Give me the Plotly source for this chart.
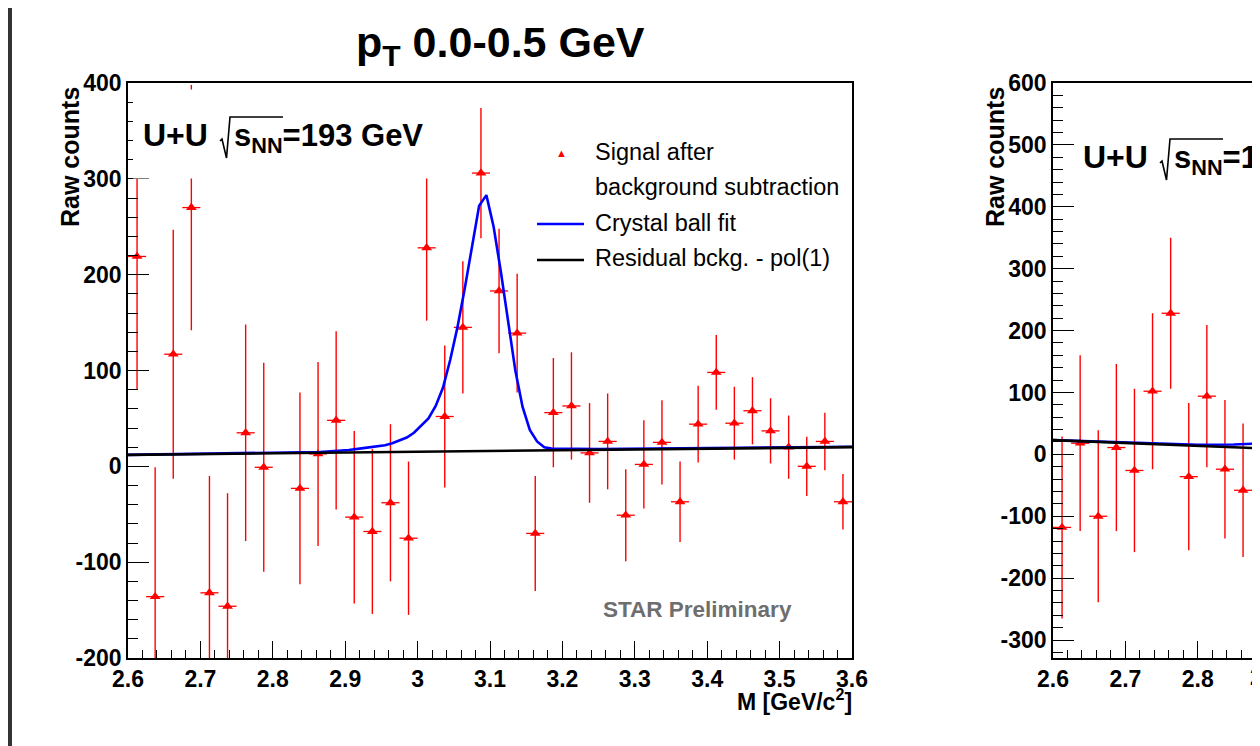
import plotly.graph_objects as go

# page has an 8 px body margin: the figure is sized so it fills the window
PAGE_OFF = 8
W, H = 1260 - PAGE_OFF, 746 - PAGE_OFF
FONT = "Liberation Sans, Arial, Helvetica, sans-serif"

# ---------------- data (left panel: pT 0.0-0.5 GeV) ----------------
MASS_BINS = [2.6125, 2.6375, 2.6625, 2.6875, 2.7125, 2.7375, 2.7625, 2.7875,
             2.8125, 2.8375, 2.8625, 2.8875, 2.9125, 2.9375, 2.9625, 2.9875,
             3.0125, 3.0375, 3.0625, 3.0875, 3.1125, 3.1375, 3.1625, 3.1875,
             3.2125, 3.2375, 3.2625, 3.2875, 3.3125, 3.3375, 3.3625, 3.3875,
             3.4125, 3.4375, 3.4625, 3.4875, 3.5125, 3.5375, 3.5625, 3.5875]
SIGNAL = [219, -136, 117, 270, -132, -146, 35, -1,
          None, -23, 13, 48, -53, -68, -38, -75,
          228, 52, 145, 306, 183, 139, -70, 56,
          63, 14, 26, -51, 2, 25, -37, 44,
          98, 45, 58, 37, 20, 0, 26, -37]
SIGNAL_ERR = [139, 135, 130, 128, 122, 118, 113, 109,
              105, 100, 96, 93, 90, 86, 82, 80,
              76, 74, 69, 68, 65, 62, 60, 57,
              56, 52, 50, 48, 46, 44, 42, 40,
              39, 38, 35, 34, 33, 31, 30, 29]
BIN_HALF_WIDTH = 0.0125

FIT_MASS = [2.600, 2.845, 2.865, 2.885, 2.905, 2.925, 2.945, 2.955, 2.965,
            2.975, 2.985, 2.995, 3.005, 3.015, 3.025, 3.035, 3.045, 3.055,
            3.065, 3.075, 3.085, 3.095, 3.105, 3.115, 3.125, 3.135, 3.145,
            3.155, 3.165, 3.175, 3.185, 3.250, 3.600]
FIT_VAL = [12, 14.5, 15, 16, 17, 19, 21, 22, 24,
           27, 30, 35, 42, 50, 63, 82, 111, 145,
           185, 229, 272, 283, 250, 203, 150, 100, 62,
           38, 26, 20, 18.5, 18, 20.5]
BKG_MASS = [2.6, 3.6]
BKG_VAL = [12, 20]

# ---------------- data (right panel, partly visible) ----------------
R_MASS_BINS = [2.6125, 2.6375, 2.6625, 2.6875, 2.7125, 2.7375, 2.7625, 2.7875,
               2.8125, 2.8375, 2.8625, 2.8875]
R_SIGNAL = [-118, 18, -100, 11, -26, 102, 228, -36, 94, -24, -58, -105]
R_SIGNAL_ERR = [147, 142, 139, 135, 132, 126, 122, 119, 115, 112, 108, 105]
R_FIT_MASS = [2.60, 2.75, 2.80, 2.85, 2.886, 2.90]
R_FIT_VAL = [23, 16.5, 15.5, 16, 17.5, 18.5]
R_BKG_MASS = [2.6, 2.9]
R_BKG_VAL = [23, 9]

Y_TICKS_L = [-200, -100, 0, 100, 200, 300, 400]
Y_TICKS_R = [-300, -200, -100, 0, 100, 200, 300, 400, 500, 600]


def px(x):
    """page pixel -> paper x"""
    return (x - PAGE_OFF) / W


def py(y):
    """page pixel -> paper y"""
    return 1 - (y - PAGE_OFF) / H


RED = "rgb(255,0,0)"

fig = go.Figure()


def add_panel(xs, ys, errs, fx, fy, bx, by, xa, ya):
    fig.add_trace(go.Scatter(
        x=xs, y=ys, mode="markers", xaxis=xa, yaxis=ya, showlegend=False,
        marker=dict(symbol="triangle-up", size=9.5, color=RED),
        error_y=dict(type="data", array=errs, visible=True, color=RED,
                     thickness=1.4, width=0),
        error_x=dict(type="constant", value=BIN_HALF_WIDTH, visible=True,
                     color=RED, thickness=1.3, width=0),
    ))
    fig.add_trace(go.Scatter(x=fx, y=fy, mode="lines", xaxis=xa, yaxis=ya,
                             showlegend=False,
                             line=dict(color="rgb(0,0,255)", width=2.6)))
    fig.add_trace(go.Scatter(x=bx, y=by, mode="lines", xaxis=xa, yaxis=ya,
                             showlegend=False,
                             line=dict(color="black", width=2.6)))


add_panel(MASS_BINS, SIGNAL, SIGNAL_ERR, FIT_MASS, FIT_VAL, BKG_MASS, BKG_VAL,
          "x", "y")
add_panel(R_MASS_BINS, R_SIGNAL, R_SIGNAL_ERR, R_FIT_MASS, R_FIT_VAL,
          R_BKG_MASS, R_BKG_VAL, "x2", "y2")

tickfont = dict(family=FONT, size=23, color="black", weight="bold")


def xaxis(domain, rng):
    return dict(domain=domain, range=rng, showline=True, linecolor="black",
                linewidth=1.5, mirror=True, ticks="inside", ticklen=17,
                tickwidth=1.2, tickcolor="black", tickmode="linear",
                tick0=2.6, dtick=0.1, tickfont=tickfont, showgrid=False,
                zeroline=False, automargin=False, ticklabelstandoff=0,
                minor=dict(ticks="inside", ticklen=8, tickwidth=1.2,
                           tickcolor="black", dtick=0.02, tick0=2.6,
                           showgrid=False))


def yaxis(domain, rng, ticks, mirror):
    return dict(domain=domain, range=rng, showline=True, linecolor="black",
                linewidth=1.5, mirror=mirror, ticks="inside", ticklen=21,
                tickwidth=1.2, tickcolor="black", tickmode="array",
                tickvals=ticks, ticktext=[str(t) for t in ticks],
                tickfont=tickfont, showgrid=False, zeroline=False,
                automargin=False, ticklabelstandoff=0,
                minor=dict(ticks="inside", ticklen=10, tickwidth=1.2,
                           tickcolor="black", tickmode="linear", dtick=20,
                           tick0=0, showgrid=False))


ydom = [py(658), py(83)]
layout = dict(
    width=W, height=H, margin=dict(l=0, r=0, t=0, b=0),
    paper_bgcolor="white", plot_bgcolor="white", showlegend=False,
    xaxis=xaxis([px(128), px(852)], [2.6, 3.6]),
    yaxis=yaxis(ydom, [-200, 400], Y_TICKS_L, True),
    xaxis2=xaxis([px(1053), 1.0], [2.6, 2.6 + 207 / 724]),
    yaxis2=yaxis(ydom, [-329, 600], Y_TICKS_R, False),
)
layout["xaxis"]["anchor"] = "y"
layout["yaxis"]["anchor"] = "x"
layout["xaxis2"]["anchor"] = "y2"
layout["yaxis2"]["anchor"] = "x2"
fig.update_layout(**layout)

shapes = []
annotations = []

# white pave behind "U+U" text (covers error bars like in the original)
shapes.append(dict(type="rect", xref="paper", yref="paper", layer="above",
                   x0=px(133), x1=px(455), y0=py(178.5), y1=py(89.5),
                   fillcolor="white", line=dict(width=0)))
# thick canvas border on the far left
shapes.append(dict(type="rect", xref="paper", yref="paper", layer="above",
                   x0=px(8), x1=px(12), y0=0, y1=1,
                   fillcolor="#333333", line=dict(width=0)))


def ann(text, x, y, size, xanchor="left", yanchor="middle", bold=False,
        color="black", angle=0):
    annotations.append(dict(
        text=text, x=px(x), y=py(y), xref="paper", yref="paper",
        showarrow=False, xanchor=xanchor, yanchor=yanchor, textangle=angle,
        font=dict(family=FONT, size=size, color=color,
                  weight="bold" if bold else "normal")))


# title
ann("p<sub>T</sub> 0.0-0.5 GeV", 500, 45, 43, xanchor="center", bold=True)

# "U+U sqrt(s_NN)=193 GeV" labels for both panels
for x0, yc in ((142, 135), (1082, 157)):
    ann("U+U", x0 - 1, yc, 32, bold=True)
    ann("s<sub>NN</sub>=193 GeV", x0 + 90, yc + 3, 31, bold=True)
    # radical sign with its overline
    path = "M {} {} L {} {} L {} {} L {} {} L {} {}".format(
        px(x0 + 78), py(yc + 6), px(x0 + 80), py(yc + 4),
        px(x0 + 84.5), py(yc + 23), px(x0 + 88), py(yc - 18),
        px(x0 + 141), py(yc - 18))
    shapes.append(dict(type="path", xref="paper", yref="paper", layer="above",
                       path=path, line=dict(color="black", width=1.6)))

# y-axis titles
ann("Raw counts", 70, 157, 25, xanchor="center", bold=True, angle=-90)
ann("Raw counts", 995, 157, 25, xanchor="center", bold=True, angle=-90)

# x-axis title
ann("M [GeV/c<sup>2</sup>]", 854, 700, 23, xanchor="right", bold=True)

# partly visible tick label of the right panel
ann("2.9", 1266, 677, 23, xanchor="center", bold=True)

# STAR Preliminary
ann("STAR Preliminary", 697, 609, 22.5, xanchor="center", bold=True,
    color="#6e6e6e")

# legend
ann("▲", 561, 153, 11, xanchor="center", color=RED)
ann("Signal after", 593, 152, 23.5)
ann("background subtraction", 593, 187, 23.5)
ann("Crystal ball fit", 593, 223, 23.5)
ann("Residual bckg. - pol(1)", 593, 258, 23.5)
shapes.append(dict(type="line", xref="paper", yref="paper", x0=px(537),
                   x1=px(584), y0=py(224), y1=py(224),
                   line=dict(color="rgb(0,0,255)", width=2.6)))
shapes.append(dict(type="line", xref="paper", yref="paper", x0=px(537),
                   x1=px(584), y0=py(260), y1=py(260),
                   line=dict(color="black", width=2.6)))

fig.update_layout(shapes=shapes, annotations=annotations)
fig.write_html("out.html")
